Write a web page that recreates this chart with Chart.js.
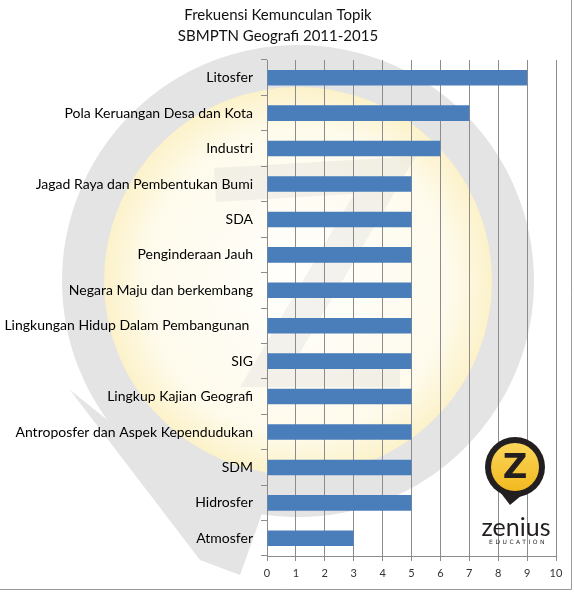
<!DOCTYPE html>
<html lang="id">
<head>
  <meta charset="UTF-8" />
  <title>Frekuensi Kemunculan Topik</title>
  <script src="https://cdn.jsdelivr.net/npm/chart.js"></script>
  <style>
    body {
      margin: 0;
      background: #ffffff;
    }
    canvas {
      display: block;
    }
  </style>
</head>
<body>
  <canvas id="topikChart" width="574" height="592"></canvas>

  <script>
    // === Data ===
    const titleLines = ['Frekuensi Kemunculan Topik', 'SBMPTN Geografi 2011-2015'];
    const topics = [
      'Litosfer',
      'Pola Keruangan Desa dan Kota',
      'Industri',
      'Jagad Raya dan Pembentukan Bumi',
      'SDA',
      'Penginderaan Jauh',
      'Negara Maju dan berkembang',
      'Lingkungan Hidup Dalam Pembangunan ',
      'SIG',
      'Lingkup Kajian Geografi',
      'Antroposfer dan Aspek Kependudukan',
      'SDM',
      'Hidrosfer',
      'Atmosfer'
    ];
    const counts = [9, 7, 6, 5, 5, 5, 5, 5, 5, 5, 5, 5, 5, 3];
    const xMin = 0;
    const xMax = 10;
    const xStep = 1;

    const gridGray = '#8c8c8c';

    // background watermark + frame + logo (decoration only)
    const decor = {
      id: 'decor',
      beforeDraw(chart) {
        const ctx = chart.ctx;
        ctx.save();
        // pale yellow disc
        const g = ctx.createRadialGradient(298, 281, 20, 298, 281, 196);
        g.addColorStop(0, '#fffefa');
        g.addColorStop(0.75, '#fefbec');
        g.addColorStop(1, '#fcf1c8');
        ctx.fillStyle = g;
        ctx.beginPath();
        ctx.arc(298, 281, 196, 0, Math.PI * 2);
        ctx.fill();
        // gray ring
        ctx.strokeStyle = '#e4e4e4';
        ctx.lineWidth = 42;
        ctx.beginPath();
        ctx.arc(298, 281, 215, 0, Math.PI * 2);
        ctx.stroke();
        // tail of the pin
        ctx.fillStyle = '#e4e4e4';
        ctx.beginPath();
        ctx.moveTo(70, 390);
        ctx.lineTo(170, 470);
        ctx.lineTo(265, 505);
        ctx.lineTo(240, 575);
        ctx.lineTo(200, 560);
        ctx.closePath();
        ctx.fill();
        // faint Z
        ctx.strokeStyle = 'rgba(200,200,200,0.22)';
        ctx.lineWidth = 34;
        ctx.lineJoin = 'miter';
        ctx.beginPath();
        ctx.moveTo(215, 185);
        ctx.lineTo(385, 175);
        ctx.lineTo(270, 370);
        ctx.lineTo(400, 370);
        ctx.stroke();
        ctx.restore();
      },
      afterDraw(chart) {
        const ctx = chart.ctx;
        ctx.save();
        // frame
        ctx.strokeStyle = '#9a9a9a';
        ctx.lineWidth = 1;
        ctx.beginPath();
        ctx.moveTo(571.5, 0);
        ctx.lineTo(571.5, 589.5);
        ctx.lineTo(0, 589.5);
        ctx.stroke();
        // zenius logo
        ctx.fillStyle = '#231f20';
        ctx.beginPath();
        ctx.arc(515, 467, 30, 0, Math.PI * 2);
        ctx.fill();
        ctx.beginPath();
        ctx.moveTo(497, 488);
        ctx.lineTo(528, 490);
        ctx.lineTo(510, 505);
        ctx.closePath();
        ctx.fill();
        const yg = ctx.createLinearGradient(0, 443, 0, 491);
        yg.addColorStop(0, '#fcd65a');
        yg.addColorStop(1, '#f2b920');
        ctx.fillStyle = yg;
        ctx.beginPath();
        ctx.arc(515, 467, 24, 0, Math.PI * 2);
        ctx.fill();
        ctx.fillStyle = '#231f20';
        ctx.font = 'bold 34px "DejaVu Sans"';
        ctx.textAlign = 'center';
        ctx.textBaseline = 'middle';
        ctx.fillText('Z', 515, 469);
        ctx.font = '25px Lato';
        ctx.textBaseline = 'alphabetic';
        ctx.fillText('zenius', 516, 536);
        ctx.font = '6px "DejaVu Sans"';
        ctx.letterSpacing = '2.5px';
        ctx.fillText('EDUCATION', 518, 544);
        ctx.restore();
      }
    };

    new Chart(document.getElementById('topikChart'), {
      type: 'bar',
      data: {
        labels: topics,
        datasets: [{
          label: 'Frekuensi',
          data: counts,
          backgroundColor: '#4a7ebb',
          borderWidth: 0,
          categoryPercentage: 1,
          barPercentage: 0.44
        }]
      },
      options: {
        indexAxis: 'y',
        responsive: false,
        animation: false,
        layout: { padding: { left: 0, right: 18, top: 0, bottom: 6 } },
        plugins: {
          legend: { display: false },
          tooltip: { enabled: false },
          title: {
            display: true,
            text: titleLines,
            color: '#111111',
            font: { family: 'Lato', size: 15, weight: 'normal', lineHeight: 1.4 },
            padding: { top: 5, bottom: 13 }
          }
        },
        scales: {
          x: {
            min: xMin,
            max: xMax,
            ticks: {
              stepSize: xStep,
              color: '#333333',
              font: { family: 'Lato', size: 11 },
              padding: 6
            },
            grid: { color: gridGray, tickLength: 5 },
            border: { color: gridGray },
            afterFit(scale) { scale.height = 30; }
          },
          y: {
            offset: true,
            ticks: {
              color: '#000000',
              font: { family: 'Lato', size: 14 },
              padding: 8
            },
            grid: { drawOnChartArea: false, color: gridGray, tickLength: 6 },
            border: { color: gridGray },
            afterFit(scale) { scale.width = 267; }
          }
        }
      },
      plugins: [decor]
    });
  </script>
</body>
</html>
